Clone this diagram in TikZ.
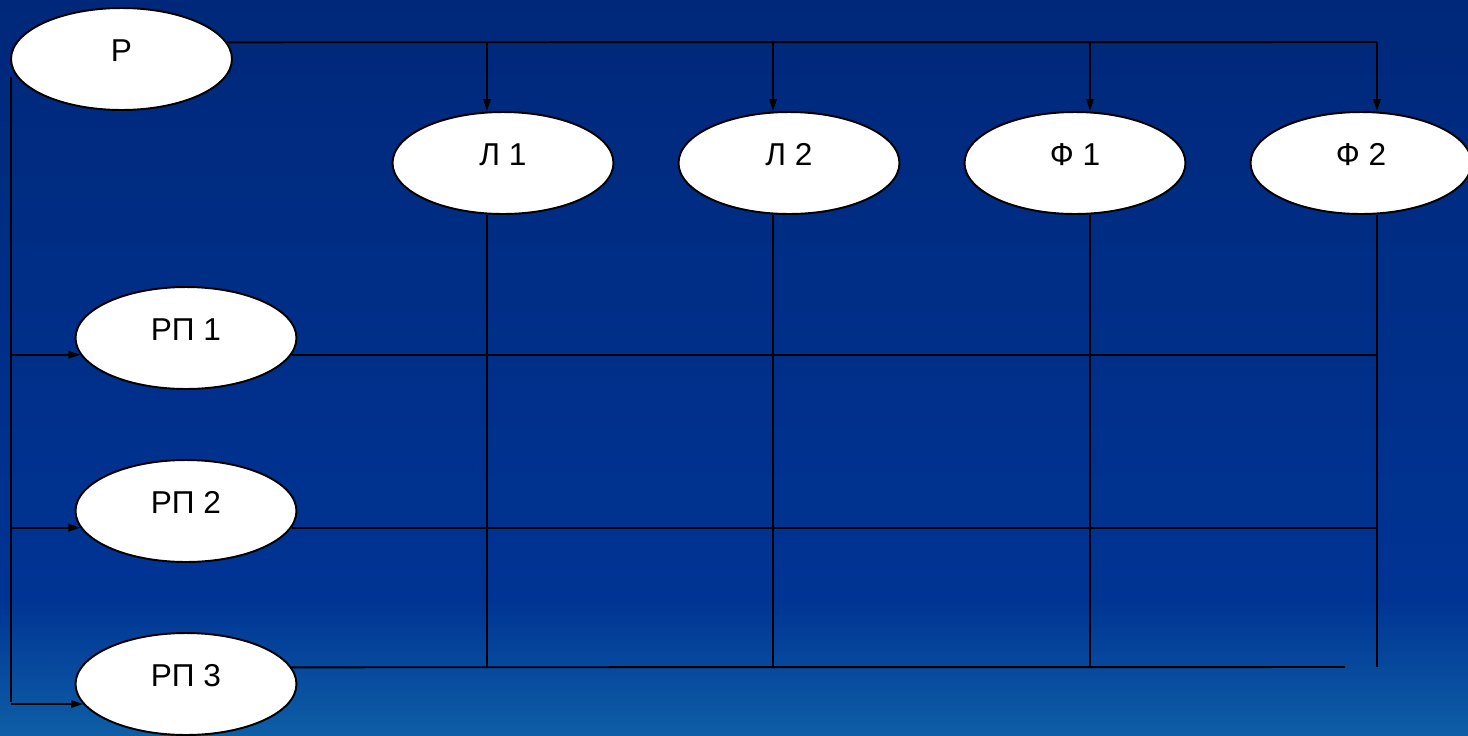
\documentclass[tikz,border=0pt]{standalone}
\usepackage{fontspec}
\setmainfont{Liberation Sans}
\usetikzlibrary{shapes.geometric, arrows.meta, positioning}
\definecolor{bgtop}{RGB}{0,40,122}
\definecolor{bgmid}{RGB}{0,52,148}
\definecolor{bgbot}{RGB}{14,94,166}

\begin{document}
\begin{tikzpicture}[
    x={(0.02cm,0)}, y={(0,-0.02cm)},
    every node/.style={font=\fontsize{18}{20}\selectfont},
    unit/.style={ellipse, draw=black, line width=1.1pt, fill=white, minimum width=4.42cm, minimum height=2.04cm, inner sep=0pt, text height=0.5cm, text depth=0.4cm},
    link/.style={line width=1.1pt, black},
    arrow/.style={-{Triangle[length=0.24cm, width=0.15cm]}, line width=1.1pt, black}
]

% background
\useasboundingbox (0,0) rectangle (1468,735);
\shade[top color=bgtop, bottom color=bgmid] (0,0) rectangle (1468,600);
\shade[top color=bgmid, bottom color=bgbot] (0,599) rectangle (1468,735);

\node[unit] (p) at (121.5,59) {P};
\node[unit] (l1) at (503,163) {Л 1};
\node[unit] (l2) at (789,163) {Л 2};
\node[unit] (f1) at (1075,163) {Ф 1};
\node[unit] (f2) at (1361,163) {Ф 2};
\node[unit] (rp1) at (186,338) {РП 1};
\node[unit] (rp2) at (186,511) {РП 2};
\node[unit] (rp3) at (186,684) {РП 3};

% junctions on the top line and the bottom ends
\coordinate (j1) at (487,42);
\coordinate (j2) at (773,42);
\coordinate (j3) at (1090,42);
\coordinate (j4) at (1377,42);
\coordinate (b1) at (487,667);
\coordinate (b2) at (773,667);
\coordinate (b3) at (1090,667);
\coordinate (b4) at (1377,667);
\coordinate (e3) at (1345,667);
\coordinate (s) at (11,77);

\draw[link] (p.9) -- (j4);
\draw[arrow] (j1) -- (j1 |- l1.north);
\draw[arrow] (j2) -- (j2 |- l2.north);
\draw[arrow] (j3) -- (j3 |- f1.north);
\draw[arrow] (j4) -- (j4 |- f2.north);

\draw[link] (j1 |- l1.south) -- (b1);
\draw[link] (j2 |- l2.south) -- (b2);
\draw[link] (j3 |- f1.south) -- (b3);
\draw[link] (j4 |- f2.south) -- (b4);

\draw[link] (rp1.-9) -- (rp1.-9 -| j4);
\draw[link] (rp2.-9) -- (rp2.-9 -| j4);
\draw[link] (rp3.9) -- (e3);

% left feed from P
\draw[link] (s) -- (s |- rp3.-10.5);
\draw[arrow] (s |- rp1.189) -- (rp1.189);
\draw[arrow] (s |- rp2.189) -- (rp2.189);
\draw[arrow] (s |- rp3.-169.5) -- (rp3.-169.5);

\end{tikzpicture}
\end{document}
